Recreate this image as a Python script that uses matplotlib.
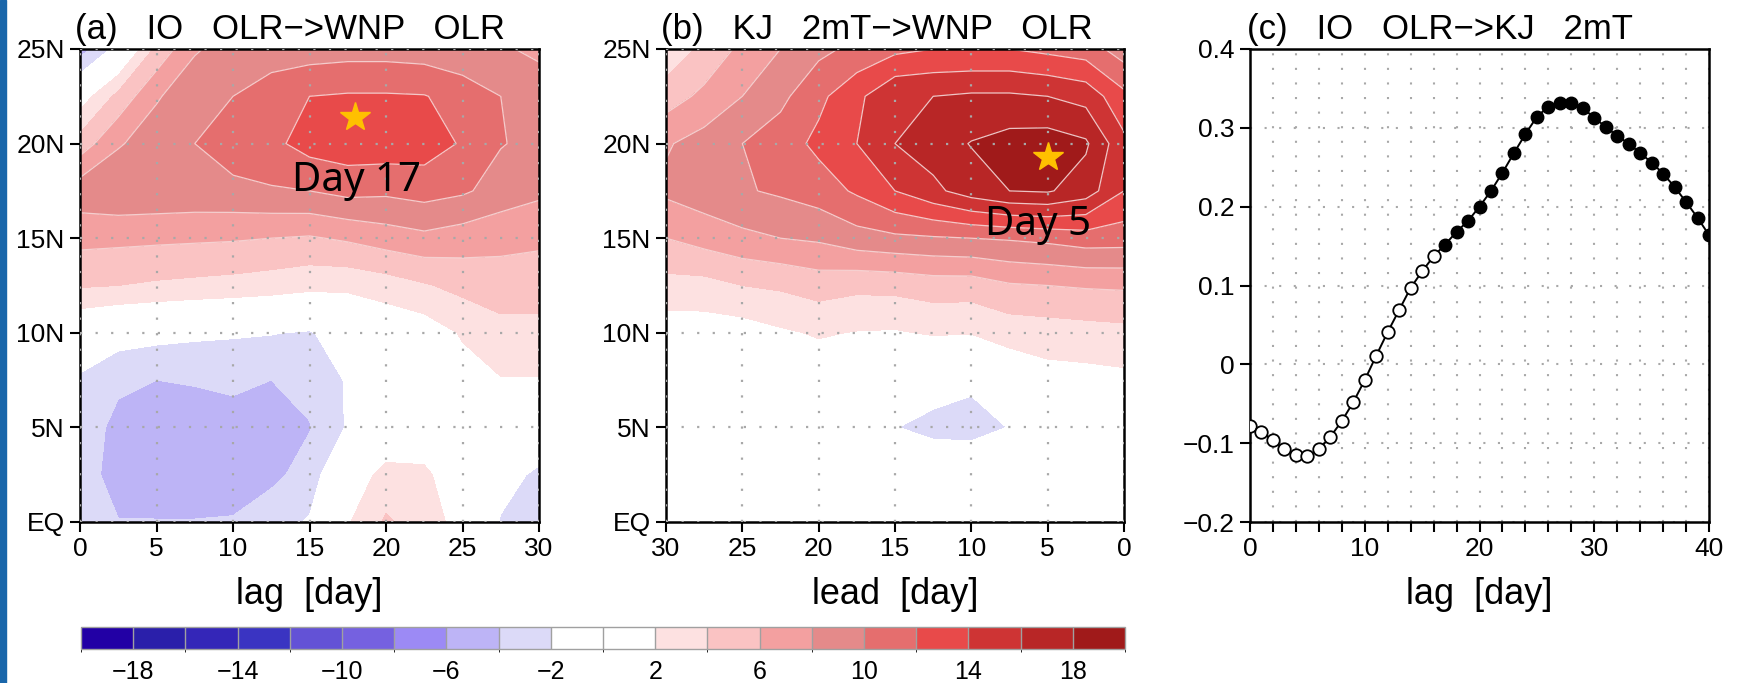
import numpy as np
import matplotlib.pyplot as plt
from matplotlib.colors import ListedColormap, BoundaryNorm
from matplotlib.patches import Rectangle
from matplotlib.ticker import MultipleLocator

plt.rcParams['font.family'] = ['Liberation Sans', 'DejaVu Sans']

# grid of the lag/lead - latitude sections
days = np.arange(0, 31, 2.5)
lats = np.arange(0, 26, 2.5)

# (a) IO OLR -> WNP OLR, rows = latitude EQ..25N, cols = lag 0..30
olr_a = [
    [-2.6, -3.9, -3.9, -3.9, -3.8, -2.8, -1.8, 1.8, 4.3, 3.0, 1.2, -2.2, -3.0],
    [-2.6, -5.2, -5.5, -5.5, -5.3, -4.5, -3.2, 0.8, 2.6, 2.4, 0.5, -1.0, -2.5],
    [-2.8, -4.6, -5.2, -5.3, -5.2, -5.0, -4.1, -1.8, 0.3, 0.5, 0.3, 0.2, 0.2],
    [-2.3, -3.6, -4.0, -3.8, -3.4, -4.0, -3.4, -1.8, 0.2, 0.5, 1.2, 1.9, 1.9],
    [-0.3, -1.0, -1.3, -1.6, -1.8, -1.9, -2.2, -0.8, 0.3, 0.8, 2.2, 3.2, 3.4],
    [4.2, 4.0, 3.7, 3.5, 3.3, 3.0, 2.6, 2.5, 3.0, 3.8, 4.6, 5.2, 4.9],
    [6.6, 6.5, 6.4, 6.3, 6.2, 6.0, 5.8, 6.3, 7.0, 7.5, 7.0, 6.5, 6.4],
    [9.2, 9.6, 9.5, 9.4, 9.5, 9.8, 10.0, 10.6, 10.4, 10.8, 10.3, 9.2, 8.4],
    [4.9, 7.8, 9.0, 10.0, 11.0, 11.5, 12.8, 13.2, 13.2, 13.0, 11.8, 10.1, 9.5],
    [0.8, 4.6, 7.8, 9.2, 10.0, 11.0, 12.0, 12.2, 12.2, 12.1, 11.2, 10.0, 9.3],
    [-5.0, -1.2, 4.5, 7.8, 8.8, 9.0, 9.0, 9.2, 9.2, 9.0, 8.5, 8.3, 7.5],
]

# (b) KJ 2mT -> WNP OLR, cols = lead 0..30
olr_b = [
    [0.3, 0.3, 0.3, 0.3, 0.2, 0.2, 0.2, 0.3, 0.3, 0.3, 0.3, 0.3, 0.3],
    [0.4, 0.4, 0.3, 0.0, -0.5, -0.5, -0.2, 0.2, 0.3, 0.3, 0.3, 0.3, 0.3],
    [0.3, 0.3, 0.2, -1.95, -2.6, -2.5, -1.95, 0.0, 0.3, 0.3, 0.2, 0.2, 0.2],
    [1.5, 1.3, 1.2, 0.3, -1.7, -1.2, 0.7, 0.6, 0.6, 0.5, 0.3, 0.3, 0.2],
    [3.4, 3.2, 3.0, 2.8, 2.1, 2.2, 1.8, 1.9, 2.2, 1.7, 1.0, 0.9, 0.8],
    [6.3, 6.2, 6.0, 5.8, 5.0, 5.0, 4.6, 4.5, 4.9, 4.3, 4.0, 3.3, 3.3],
    [10.9, 11.0, 10.5, 10.2, 10.0, 9.8, 9.6, 9.2, 8.3, 8.0, 7.5, 6.8, 6.0],
    [14.0, 17.0, 18.2, 18.0, 17.0, 15.5, 14.0, 12.3, 11.0, 10.3, 9.8, 9.1, 8.4],
    [14.5, 18.3, 19.0, 18.8, 18.1, 17.0, 16.0, 14.0, 12.5, 11.0, 10.0, 8.8, 7.8],
    [12.5, 15.3, 16.0, 16.3, 16.3, 16.0, 15.8, 13.5, 11.5, 9.5, 8.0, 6.5, 5.0],
    [9.0, 11.0, 11.5, 12.0, 12.0, 12.0, 11.5, 10.5, 9.5, 8.0, 6.5, 4.5, 2.5],
]

# (c) IO OLR -> KJ 2mT lag correlation
lag_c = np.arange(0, 41)
corr_c = [-0.078, -0.086, -0.096, -0.108, -0.115, -0.116, -0.108, -0.092, -0.072, -0.048,
          -0.020, 0.011, 0.041, 0.069, 0.097, 0.118, 0.137, 0.152, 0.168, 0.182,
          0.200, 0.220, 0.243, 0.268, 0.292, 0.314, 0.327, 0.332, 0.331, 0.325,
          0.313, 0.301, 0.290, 0.280, 0.268, 0.256, 0.242, 0.225, 0.206, 0.186, 0.164]
sig_from_lag = 17

peak_a = (18, 21.4)
peak_b = (5, 19.3)

levels = np.arange(-20, 21, 2)
colors = ['#2200A5', '#2A1FAA', '#3426B8', '#3A34C2', '#6352D6', '#7561E0', '#9C8AF5',
          '#BDB4F6', '#DCDAF8', '#FFFFFF', '#FFFFFF', '#FDE1E1', '#FAC3C3', '#F3A0A0',
          '#E48A8A', '#E56E6E', '#E84A4A', '#CE3434', '#B82626', '#A01A1A']
cmap = ListedColormap(colors)
norm = BoundaryNorm(levels, cmap.N)

W, H = 1738, 683
fig = plt.figure(figsize=(W / 100, H / 100), dpi=100)
fig.patches.append(Rectangle((0, 0), 6 / W, 1, transform=fig.transFigure,
                             color='#1966AA', zorder=0))

ax_a = fig.add_axes([80 / W, 161 / H, 459 / W, 473 / H])
ax_b = fig.add_axes([666 / W, 161 / H, 458 / W, 473 / H])
ax_c = fig.add_axes([1250 / W, 161 / H, 459 / W, 473 / H])
cax = fig.add_axes([81 / W, 34 / H, 1044 / W, 22 / H])

dotted = (0, (1, 6))


def titled(ax, title, xlabel, x0=-0.01):
    ax.text(x0, 1.021, title, transform=ax.transAxes, va='baseline', ha='left',
            fontsize=25)
    ax.set_xlabel(xlabel, fontsize=26, labelpad=11)
    ax.tick_params(which='both', direction='out', length=7, width=1.5,
                   labelsize=19, pad=4)
    for s in ax.spines.values():
        s.set_linewidth(1.8)


def section(ax, data):
    cf = ax.contourf(days, lats, data, levels=levels, cmap=cmap, norm=norm)
    ax.contour(days, lats, data, levels=np.arange(6, 19, 2), colors='#F6D6D6',
               linewidths=0.9, alpha=0.9)
    ax.set_xlim(0, 30)
    ax.set_ylim(0, 25)
    ax.set_xticks(np.arange(0, 31, 5))
    ax.set_yticks(np.arange(0, 26, 5))
    ax.set_yticklabels(['EQ', '5N', '10N', '15N', '20N', '25N'])
    ax.grid(True, linestyle=dotted, color='#A8A8A8', lw=1.6)
    ax.set_axisbelow(False)
    return cf


cf = section(ax_a, olr_a)
titled(ax_a, '(a)   IO   OLR−>WNP   OLR', 'lag  [day]')
ax_a.plot(*peak_a, marker='*', color='#FFC000', ms=22, mec='#FFC000', zorder=6)
ax_a.text(18.1, 18.0, 'Day 17', fontsize=29, family='Noto Sans', ha='center',
          va='center', zorder=6)

section(ax_b, olr_b)
titled(ax_b, '(b)   KJ   2mT−>WNP   OLR', 'lead  [day]')
ax_b.invert_xaxis()
ax_b.plot(*peak_b, marker='*', color='#FFC000', ms=22, mec='#FFC000', zorder=6)
ax_b.text(5.6, 15.7, 'Day 5', fontsize=29, family='Noto Sans', ha='center',
          va='center', zorder=6)

# (c)
corr_c = np.array(corr_c)
ax_c.plot(lag_c, corr_c, color='k', lw=1.4, zorder=3)
ax_c.plot(lag_c[:sig_from_lag], corr_c[:sig_from_lag], 'o', mfc='white', mec='k',
          mew=1.3, ms=9, zorder=4)
ax_c.plot(lag_c[sig_from_lag:], corr_c[sig_from_lag:], 'o', color='k', ms=9, zorder=4)
ax_c.set_xlim(0, 40)
ax_c.set_ylim(-0.2, 0.4)
ax_c.set_xticks(np.arange(0, 41, 10))
ax_c.xaxis.set_minor_locator(MultipleLocator(2))
ax_c.set_yticks(np.arange(-0.2, 0.41, 0.1))
ax_c.set_yticklabels(['−0.2', '−0.1', '0', '0.1', '0.2', '0.3', '0.4'])
ax_c.grid(True, which='both', axis='x', linestyle=dotted, color='#A8A8A8', lw=1.5)
ax_c.grid(True, which='major', axis='y', linestyle=dotted, color='#A8A8A8', lw=1.5)
titled(ax_c, '(c)   IO   OLR−>KJ   2mT', 'lag  [day]', x0=-0.007)

# colour bar
cb = fig.colorbar(cf, cax=cax, orientation='horizontal', ticks=np.arange(-18, 19, 4),
                  drawedges=True)
cb.outline.set_edgecolor('#A0A0A0')
cb.outline.set_linewidth(1)
cb.dividers.set_color('#A0A0A0')
cb.dividers.set_linewidth(1)
cax.tick_params(length=0, labelsize=18, pad=8)

fig.savefig('out.png', dpi=100)
